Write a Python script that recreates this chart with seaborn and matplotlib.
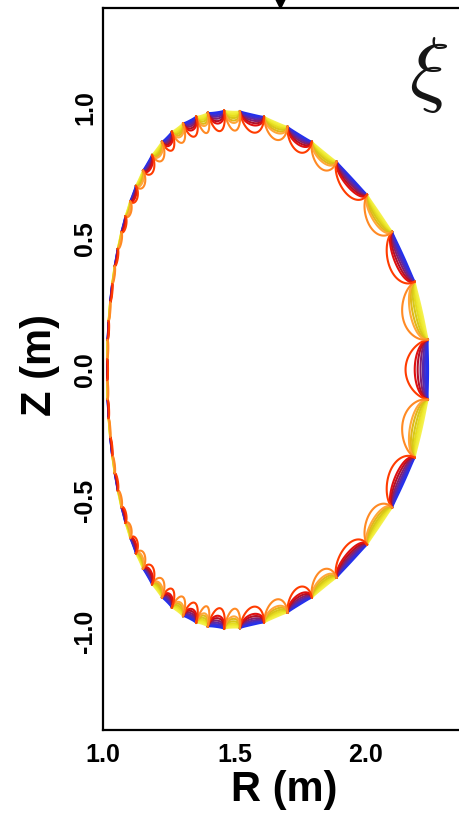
import numpy as np
import pandas as pd
import seaborn as sns
import matplotlib
matplotlib.use("Agg")
import matplotlib.pyplot as plt
from matplotlib.transforms import offset_copy


# Plasma boundary shape (metres)
R_AXIS = 1.629
MINOR_RADIUS = 0.614
ELONGATION = 1.612
TRIANGULARITY = 0.251

# Poloidal angle (rad) of the loop nodes on the upper half, outboard midplane first
NODE_THETA = [0.116, 0.346, 0.561, 0.741, 0.931, 1.074, 1.214, 1.350,
              1.495, 1.595, 1.704, 1.787, 1.887, 1.979, 2.068, 2.166,
              2.266, 2.354, 2.435, 2.509, 2.583, 2.657, 2.731, 2.805,
              2.879, 2.953, 3.027, 3.101]
# Depth of each loop (m): loop 0 sits on the outboard midplane, the last one on the inboard midplane
LOOP_DEPTH = [0.092, 0.082, 0.072, 0.066, 0.064, 0.066, 0.068, 0.070,
              0.074, 0.078, 0.078, 0.074, 0.068, 0.062, 0.056, 0.050,
              0.042, 0.034, 0.026, 0.019, 0.014, 0.010, 0.008, 0.006,
              0.005, 0.004, 0.004, 0.004, 0.004]
# Nested curves in every loop, as a fraction of the loop depth
LEVELS = [1.0, 0.62, 0.5, 0.38, 0.28, 0.2, 0.13, 0.07]
RED_LOOP_COLORS = ["#ff3c00", "#e01010", "#b0102a", "#802070",
                   "#5a28a8", "#3a2fd0", "#2a30e8", "#2030f0"]
ORANGE_LOOP_COLORS = ["#ff8a24", "#ffa83a", "#e0b818", "#d8c818",
                      "#e6dc20", "#eeea30", "#f2ef40", "#f5f150"]

X_TICKS = [1.0, 1.5, 2.0]
Y_TICKS = [-1.0, -0.5, 0.0, 0.5, 1.0]
MARKER_R = 1.673


def boundary(theta):
    shift = np.arcsin(TRIANGULARITY)
    r = R_AXIS + MINOR_RADIUS * np.cos(theta + shift * np.sin(theta))
    z = ELONGATION * MINOR_RADIUS * np.sin(theta)
    # loops point from the boundary towards the magnetic axis
    dr, dz = R_AXIS - r, -z
    norm = np.hypot(dr, dz)
    return r, z, dr / norm, dz / norm


# loops as (start angle, end angle, loop index)
nodes = np.array(NODE_THETA)
loops = [(-nodes[0], nodes[0], 0)]
for k in range(1, len(nodes)):
    loops.append((nodes[k - 1], nodes[k], k))
    loops.append((-nodes[k], -nodes[k - 1], k))
loops.append((nodes[-1], 2 * np.pi - nodes[-1], len(nodes)))

frames = []
palette = {}
s = np.linspace(0, 1, 60)
# smallest curves first so the outer arcs end up on top
for j in range(len(LEVELS) - 1, -1, -1):
    for i, (t0, t1, k) in enumerate(loops):
        th = t0 + (t1 - t0) * s
        r, z, nr, nz = boundary(th)
        d = LOOP_DEPTH[k] * LEVELS[j] * 2 * np.sqrt(s * (1 - s))
        name = "c%d_%d" % (j, i)
        frames.append(pd.DataFrame({"R": r + nr * d, "Z": z + nz * d, "curve": name}))
        palette[name] = RED_LOOP_COLORS[j] if k % 2 == 0 else ORANGE_LOOP_COLORS[j]
data = pd.concat(frames, ignore_index=True)

sns.set_style("white")
plt.rcParams["font.family"] = ["Liberation Sans", "DejaVu Sans"]
plt.rcParams["font.weight"] = "bold"
plt.rcParams["text.color"] = "black"
plt.rcParams["axes.labelcolor"] = "black"
plt.rcParams["axes.unicode_minus"] = False
plt.rcParams["mathtext.fontset"] = "cm"

fig = plt.figure(figsize=(4.6, 8.24), dpi=100)
ax = fig.add_axes([103 / 460, 94 / 824, 368 / 460, 722 / 824])

sns.lineplot(data=data, x="R", y="Z", hue="curve", units="curve", estimator=None,
             sort=False, palette=palette, hue_order=list(palette.keys()),
             legend=False, lw=1.5, ax=ax)

ax.set_xlim(1.0, 2.4)
ax.set_ylim(-1.375, 1.38)

for side in ["left", "bottom", "top"]:
    ax.spines[side].set_linewidth(1.6)
    ax.spines[side].set_color("black")
ax.spines["right"].set_visible(False)

ax.set_xticks(X_TICKS)
ax.set_xticklabels(["%.1f" % v for v in X_TICKS])
ax.set_yticks(Y_TICKS)
ax.set_yticklabels(["%.1f" % v for v in Y_TICKS], rotation=90, va="center")
ax.tick_params(axis="both", direction="in", color="#808080", width=1.1,
               labelcolor="black", labelsize=18, top=False, right=False)
ax.tick_params(axis="y", length=15, pad=4)
ax.tick_params(axis="x", length=10, pad=9)

ax.set_xlabel("R (m)", fontsize=30, fontweight="bold", color="black")
ax.set_ylabel("Z (m)", fontsize=30, fontweight="bold", color="black")
ax.xaxis.set_label_coords(0.492, -0.056)
ax.yaxis.set_label_coords(-0.116, 0.506)

ax.text(2.24, 1.125, r"$\xi$", fontsize=60, ha="center", va="center", color="#151515")

tr = offset_copy(ax.transData, fig=fig, x=0, y=5, units="points")
ax.plot([MARKER_R], [1.38], marker="v", ms=10, color="black", clip_on=False, transform=tr)

fig.savefig("out.png", dpi=100)
